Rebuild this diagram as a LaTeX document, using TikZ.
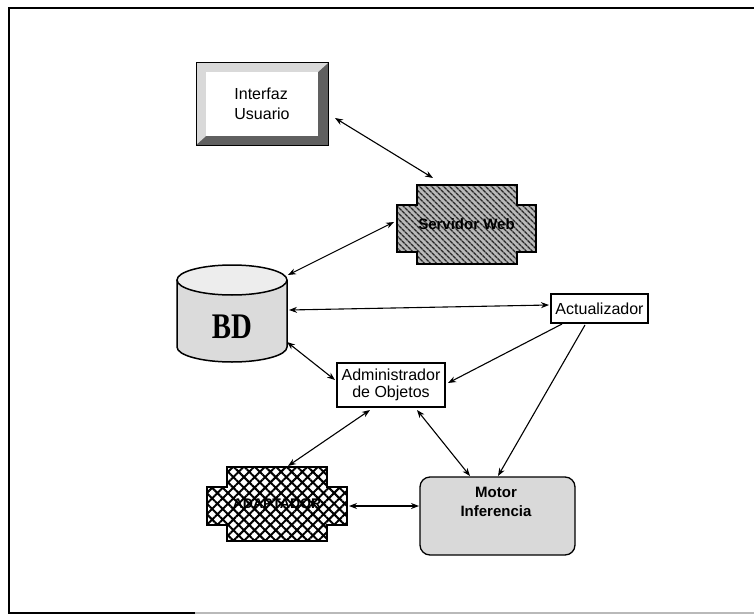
\documentclass[tikz,border=0pt]{standalone}
\usepackage{fontspec}
\setmainfont{Liberation Sans}
\newfontfamily\bdfont{Liberation Serif}
\usetikzlibrary{arrows.meta,patterns.meta}

\begin{document}
\begin{tikzpicture}[x=1pt,y=-1pt,
  tip/.tip={Stealth[length=8pt,width=6pt]},
  conn/.style={line width=1.1pt,tip-tip},
  feed/.style={line width=1.1pt,-tip},
  region/.style={inner sep=0pt,outer sep=0pt,draw=none},
  plainbox/.style={draw,line width=1.4pt,fill=white,inner sep=1pt,outer sep=0pt,align=center,
    font=\fontsize{16}{17}\selectfont},
  boldtxt/.style={font=\fontsize{15}{19}\selectfont\bfseries,align=center},
]
\useasboundingbox (0,0) rectangle (754,615);
\fill[white] (0,0) rectangle (754,615);

% outer frame
\draw[line width=2.6pt] (754,8) -- (9,8) -- (9,613) -- (195,613);
\draw[line width=1.4pt,gray!55] (195,613) -- (754,613);

% Interfaz Usuario: bevelled button
\fill[gray!75!black] (196,63) rectangle (328,145);
\fill[gray!30] (196,63) -- (328,63) -- (318,72) -- (206,72) -- (206,136) -- (196,145) -- cycle;
\fill[white] (206,72) rectangle (318,136);
\draw[line width=1pt] (196,63) rectangle (328,145);
\node[region,minimum width=132pt,minimum height=82pt,align=left,
  font=\fontsize{16}{20}\selectfont,text depth=0pt] (iu) at (262,104) {Interfaz\\Usuario};

% Servidor Web: notched block with diagonal hatching
\path[preaction={fill=gray!55},pattern={Lines[angle=-45,distance=4pt,line width=1.6pt]},pattern color=black!85]
  (417,185) -- (517,185) -- (517,205) -- (536,205) -- (536,252) -- (517,252) -- (517,264)
  -- (417,264) -- (417,252) -- (397,252) -- (397,205) -- (417,205) -- cycle;
\draw[line width=1.8pt]
  (417,185) -- (517,185) -- (517,205) -- (536,205) -- (536,252) -- (517,252) -- (517,264)
  -- (417,264) -- (417,252) -- (397,252) -- (397,205) -- (417,205) -- cycle;
\node[region,minimum width=139pt,minimum height=79pt,boldtxt] (sw) at (466.5,224.5) {Servidor Web};

% BD: database cylinder
\path[fill=gray!28] (177,280) -- (177,347)
  arc[start angle=180,end angle=360,x radius=55pt,y radius=15pt] -- (287,280) -- cycle;
\draw[line width=1.5pt] (177,280) -- (177,347)
  arc[start angle=180,end angle=360,x radius=55pt,y radius=15pt] -- (287,280);
\draw[line width=1.5pt,fill=gray!14] (232,280) ellipse[x radius=55pt,y radius=15pt];
\node[region,minimum width=110pt,minimum height=97pt] (bd) at (232,313.5) {};
\node[region,font=\bdfont\bfseries\fontsize{36}{36}\selectfont] (bdlabel) at (232,327)
  {\scalebox{0.8}[1]{BD}};

% Actualizador
\node[plainbox,minimum width=97pt,minimum height=29pt] (act) at (599.5,308.5) {Actualizador};

% Administrador de Objetos
\node[plainbox,minimum width=108pt,minimum height=44pt] (adm) at (391,385) {Administrador\\de Objetos};

% ADAPTADOR: notched block with cross hatching
\path[preaction={fill=white},pattern={Hatch[angle=45,distance=7.5pt,line width=2pt]},pattern color=black]
  (227,467) -- (327,467) -- (327,487) -- (347,487) -- (347,525) -- (327,525) -- (327,541)
  -- (227,541) -- (227,525) -- (207,525) -- (207,487) -- (227,487) -- cycle;
\draw[line width=1.8pt]
  (227,467) -- (327,467) -- (327,487) -- (347,487) -- (347,525) -- (327,525) -- (327,541)
  -- (227,541) -- (227,525) -- (207,525) -- (207,487) -- (227,487) -- cycle;
\node[region,minimum width=140pt,minimum height=74pt,font=\fontsize{14}{16}\selectfont\bfseries] (ad) at (277,504) {ADAPTADOR};

% Motor Inferencia
\node[region,draw,line width=1.3pt,fill=gray!30,rounded corners=10pt,
  minimum width=155pt,minimum height=78pt] (mi) at (497.5,516) {};
\node[region,boldtxt] (milabel) at (496,502) {Motor\\Inferencia};

% connectors
\draw[conn] ([shift={(7,14)}]iu.east) -- ([shift={(-33.5,-7)}]sw.north);
\draw[conn] ([shift={(-3,-2.5)}]sw.west) -- ([shift={(1,-38.5)}]bd.east);
\draw[conn] ([shift={(2,-3.5)}]bd.east) -- ([shift={(-2,-3.5)}]act.west);
\draw[conn] ([shift={(0,28.5)}]bd.east) -- ([shift={(-2,-5)}]adm.west);
\draw[feed] ([shift={(-37.5,1)}]act.south) -- ([shift={(3,-2)}]adm.east);
\draw[feed] ([shift={(-14.5,2)}]act.south) -- ([shift={(0.5,-1)}]mi.north);
\draw[conn] ([shift={(-21,3)}]adm.south) -- ([shift={(11,-1)}]ad.north);
\draw[conn] ([shift={(26,3)}]adm.south) -- ([shift={(-27.5,-1)}]mi.north);
\draw[conn] ([shift={(2,2)}]ad.east) -- ([shift={(-1,-10)}]mi.west);
\end{tikzpicture}
\end{document}
